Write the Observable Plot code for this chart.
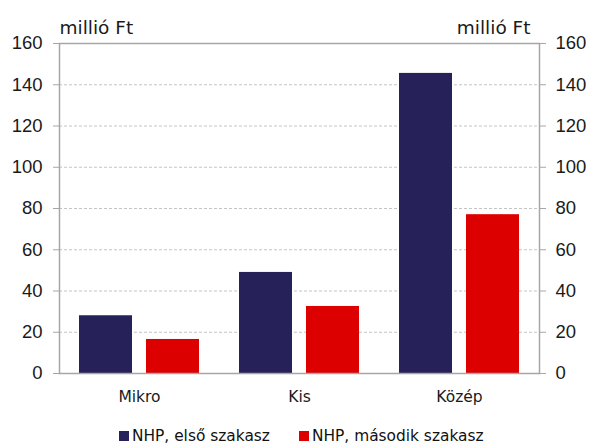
<!DOCTYPE html>
<html>
<head>
<meta charset="utf-8">
<script src="https://cdn.jsdelivr.net/npm/d3@7"></script>
<script src="https://cdn.jsdelivr.net/npm/@observablehq/plot@0.6"></script>
<style>
  body { margin: 0; background: #fff; font-family: "DejaVu Sans", sans-serif; }
  #chart { width: 592px; }
  .legend { position: relative; height: 24px; font-size: 15.4px; color: #111; }
  .legend .item { display: flex; align-items: center; position: absolute; top: 7px; }
  .legend .sw { width: 10px; height: 10px; margin-right: 3px; display: inline-block; }
</style>
</head>
<body>
<div id="chart"></div>
<script>
const categories = ["Mikro", "Kis", "Közép"];
const series = ["NHP, első szakasz", "NHP, második szakasz"];
const firstPhase = [28, 49, 145.5];
const secondPhase = [16.5, 32.5, 77];
const yTicks = [0, 20, 40, 60, 80, 100, 120, 140, 160];
const unitLabel = "millió Ft";
const colors = ["#262259", "#dd0000"];

const data = categories.flatMap((c, i) => [
  {cat: c, s: series[0], v: firstPhase[i]},
  {cat: c, s: series[1], v: secondPhase[i]}
]);

const textFont = "DejaVu Sans, sans-serif";
const numFont = "Liberation Sans, sans-serif";
const plot = Plot.plot({
  width: 592,
  height: 420,
  marginLeft: 59,
  marginRight: 53,
  marginTop: 43,
  marginBottom: 47,
  style: {fontFamily: textFont, background: "#fff"},
  x: {domain: categories, paddingInner: 0.25, paddingOuter: 0.125},
  y: {domain: [0, 160]},
  color: {domain: series, range: colors},
  marks: [
    Plot.ruleY(yTicks.filter(t => t > 0 && t < 160), {stroke: "#c4c4c4", strokeDasharray: "3,2", strokeWidth: 1}),
    Plot.barY(data.filter(d => d.s === series[0]), {x: "cat", y: "v", fill: "s", insetRight: 67}),
    Plot.barY(data.filter(d => d.s === series[1]), {x: "cat", y: "v", fill: "s", insetLeft: 67}),
    Plot.frame({stroke: "#a6a6a6", strokeWidth: 1.5}),
    Plot.axisY({anchor: "left", ticks: yTicks, tickSize: 6, tickPadding: 11, stroke: "#a6a6a6", fill: "#1a1a1a", fontSize: 18.5, fontFamily: numFont, label: null}),
    Plot.axisY({anchor: "right", ticks: yTicks, tickSize: 6, tickPadding: 10, stroke: "#a6a6a6", fill: "#1a1a1a", fontSize: 18.5, fontFamily: numFont, label: null}),
    Plot.axisX({anchor: "bottom", tickSize: 0, tickPadding: 17, fill: "#1a1a1a", fontSize: 15.5, fontFamily: textFont, label: null}),
    Plot.text([unitLabel], {frameAnchor: "top-left", text: d => d, dy: -23, textAnchor: "start", fontSize: 18.5, fontFamily: textFont, fill: "#1a1a1a"}),
    Plot.text([unitLabel], {frameAnchor: "top-right", text: d => d, dy: -23, dx: -9, textAnchor: "end", fontSize: 18.5, fontFamily: textFont, fill: "#1a1a1a"})
  ]
});
document.getElementById("chart").appendChild(plot);

const legend = document.createElement("div");
legend.className = "legend";
const lx = [119, 299];
series.forEach((s, i) => {
  const it = document.createElement("div");
  it.className = "item";
  it.style.left = lx[i] + "px";
  const sw = document.createElement("span");
  sw.className = "sw";
  sw.style.background = colors[i];
  const t = document.createElement("span");
  t.textContent = s;
  it.appendChild(sw);
  it.appendChild(t);
  legend.appendChild(it);
});
document.getElementById("chart").appendChild(legend);
</script>
</body>
</html>
